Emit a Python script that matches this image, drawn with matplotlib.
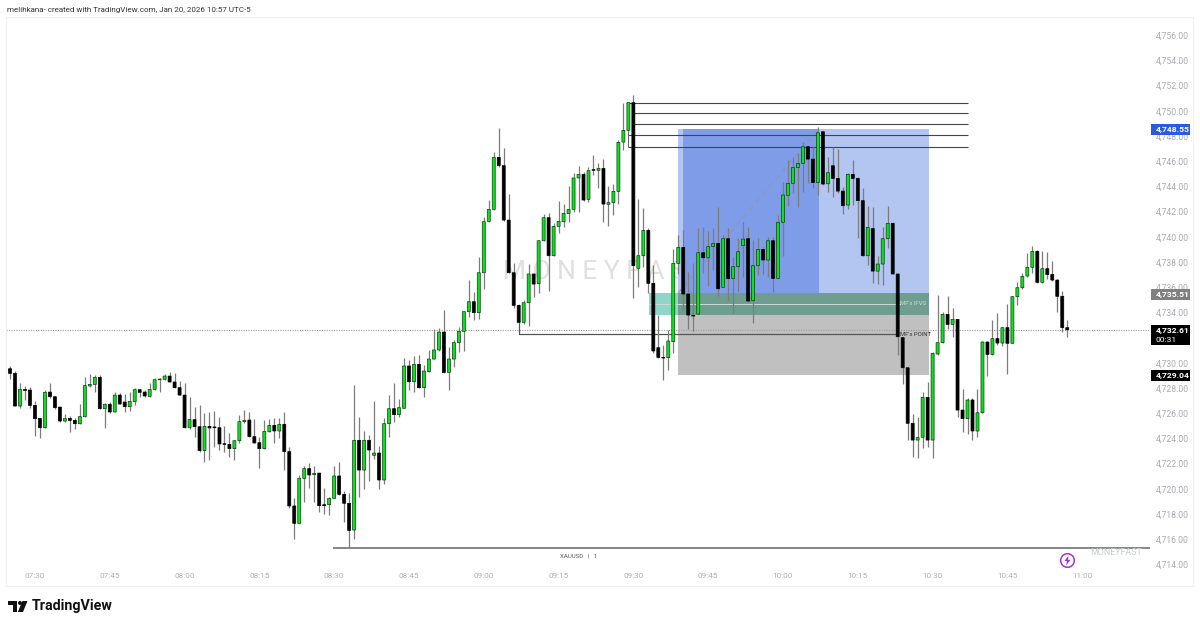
import matplotlib
matplotlib.use("Agg")
import matplotlib.pyplot as plt
from matplotlib.patches import Rectangle, Polygon, Circle
from matplotlib.ticker import FuncFormatter
import numpy as np

plt.rcParams['font.family'] = ['Roboto', 'DejaVu Sans']

# 1 minute bars, XAUUSD, first bar is 07:25
opens = [
    4729.52, 4729.15, 4726.56, 4727.88, 4727.83, 4726.61, 4725.58, 4724.84, 4727.67, 4727.30,
    4726.48, 4725.37, 4725.58, 4725.42, 4725.16, 4725.72, 4728.15, 4728.28, 4728.84, 4726.35,
    4726.70, 4726.09, 4727.43, 4726.88, 4726.51, 4726.91, 4727.86, 4727.67, 4727.33, 4727.88,
    4728.65, 4728.68, 4728.94, 4728.47, 4728.02, 4727.43, 4724.84, 4725.48, 4724.92, 4723.02,
    4724.95, 4724.90, 4724.84, 4723.57, 4723.52, 4723.18, 4723.81, 4725.32, 4725.45, 4724.13,
    4723.65, 4723.18, 4724.52, 4725.03, 4724.58, 4725.11, 4722.94, 4718.63, 4717.25, 4720.82,
    4721.59, 4721.11, 4721.24, 4718.73, 4718.73, 4719.23, 4721.01, 4719.55, 4718.84, 4716.72,
    4723.84, 4721.48, 4723.84, 4722.65, 4722.83, 4720.69, 4725.16, 4726.35, 4725.88, 4726.38,
    4729.74, 4728.49, 4729.87, 4728.02, 4729.29, 4730.29, 4731.01, 4732.43, 4729.23, 4730.29,
    4731.59, 4732.49, 4734.05, 4734.84, 4733.97, 4737.14, 4741.22, 4742.17, 4746.30, 4745.64,
    4741.32, 4737.14, 4734.55, 4733.20, 4734.76, 4737.04, 4736.27, 4739.68, 4741.51, 4738.49,
    4740.82, 4741.19, 4741.83, 4742.17, 4744.66, 4744.95, 4742.96, 4745.32, 4745.27, 4745.42,
    4742.57, 4742.70, 4743.60, 4747.51, 4748.44, 4750.64, 4737.49, 4738.49, 4740.50, 4736.30,
    4731.19, 4730.42, 4730.40, 4731.67, 4737.88, 4739.15, 4735.45, 4733.76, 4733.86, 4738.73,
    4738.33, 4739.21, 4739.47, 4735.98, 4739.84, 4736.67, 4737.62, 4739.29, 4739.84, 4734.92,
    4737.70, 4738.99, 4738.15, 4739.68, 4736.69, 4741.14, 4743.28, 4744.23, 4745.48, 4745.82,
    4747.14, 4746.16, 4744.29, 4748.33, 4744.20, 4745.63, 4744.63, 4743.62, 4742.51, 4744.95,
    4744.63, 4742.86, 4738.49, 4740.64, 4737.27, 4737.83, 4739.84, 4741.06, 4737.04, 4731.99,
    4729.60, 4725.19, 4723.86, 4724.08, 4727.25, 4723.86, 4730.69, 4731.59, 4733.84, 4733.04,
    4733.44, 4726.24, 4725.56, 4727.04, 4724.58, 4726.03, 4731.64, 4730.66, 4731.91, 4731.56,
    4732.78, 4731.54, 4735.24, 4735.95, 4736.88, 4737.57, 4738.84, 4736.38, 4737.46, 4737.01,
    4736.56, 4735.27, 4732.78,
]
highs = [
    4729.74, 4729.37, 4728.36, 4728.15, 4728.04, 4726.96, 4725.58, 4727.83, 4728.36, 4727.30,
    4726.51, 4725.93, 4725.77, 4725.58, 4726.70, 4728.89, 4729.10, 4729.02, 4729.02, 4726.77,
    4726.91, 4727.65, 4727.57, 4727.49, 4727.70, 4727.96, 4727.94, 4727.83, 4728.36, 4728.76,
    4728.76, 4729.08, 4729.29, 4729.21, 4728.57, 4728.36, 4727.30, 4726.51, 4726.64, 4725.98,
    4726.11, 4726.16, 4725.66, 4724.97, 4724.39, 4723.86, 4725.85, 4726.24, 4726.11, 4725.50,
    4724.13, 4725.45, 4725.53, 4725.58, 4725.58, 4726.11, 4723.33, 4719.23, 4721.09, 4721.80,
    4722.01, 4721.80, 4721.27, 4720.03, 4719.37, 4721.83, 4722.14, 4719.82, 4719.63, 4728.23,
    4725.66, 4724.58, 4724.23, 4726.96, 4723.39, 4725.64, 4727.44, 4728.36, 4727.12, 4730.34,
    4730.21, 4730.53, 4730.61, 4729.82, 4731.01, 4732.65, 4732.73, 4734.18, 4731.27, 4731.80,
    4732.86, 4734.13, 4736.56, 4735.64, 4738.36, 4741.59, 4742.91, 4746.75, 4748.60, 4747.06,
    4743.39, 4737.88, 4734.63, 4734.97, 4737.83, 4737.09, 4739.74, 4741.80, 4741.91, 4741.11,
    4742.86, 4742.59, 4744.02, 4745.08, 4745.61, 4745.16, 4745.56, 4746.48, 4745.82, 4746.16,
    4744.00, 4744.15, 4747.67, 4750.63, 4750.64, 4751.24, 4742.96, 4742.25, 4740.66, 4737.75,
    4733.78, 4731.40, 4732.59, 4738.99, 4740.13, 4740.53, 4737.22, 4737.88, 4740.66, 4740.79,
    4740.48, 4740.66, 4742.38, 4740.13, 4740.66, 4738.41, 4739.87, 4741.19, 4740.79, 4739.74,
    4739.87, 4739.15, 4740.00, 4740.00, 4741.72, 4744.36, 4746.08, 4746.35, 4746.61, 4747.49,
    4747.22, 4747.14, 4748.68, 4748.41, 4746.35, 4747.14, 4746.93, 4743.96, 4745.08, 4746.08,
    4744.76, 4743.84, 4742.43, 4742.38, 4738.49, 4740.74, 4742.46, 4741.14, 4737.09, 4732.00,
    4729.60, 4725.90, 4725.66, 4727.70, 4728.49, 4730.87, 4735.37, 4734.05, 4735.32, 4734.31,
    4733.44, 4727.88, 4727.22, 4727.22, 4727.91, 4731.72, 4731.72, 4733.39, 4733.92, 4732.84,
    4734.66, 4735.32, 4736.43, 4737.09, 4738.73, 4739.29, 4738.94, 4738.89, 4738.76, 4738.10,
    4736.61, 4735.69, 4733.39,
]
lows = [
    4728.68, 4726.56, 4726.38, 4727.04, 4726.38, 4724.21, 4724.05, 4724.84, 4727.17, 4726.32,
    4725.32, 4725.32, 4724.50, 4724.74, 4725.13, 4725.72, 4728.10, 4727.70, 4726.35, 4724.84,
    4725.98, 4726.09, 4726.72, 4726.11, 4726.19, 4726.64, 4727.30, 4727.30, 4727.30, 4727.83,
    4727.70, 4728.63, 4728.44, 4727.96, 4727.43, 4724.84, 4724.71, 4724.13, 4722.94, 4722.14,
    4722.28, 4723.33, 4723.07, 4722.94, 4722.49, 4722.28, 4723.60, 4725.19, 4724.13, 4723.60,
    4721.67, 4723.18, 4724.52, 4723.60, 4724.00, 4721.48, 4718.44, 4715.98, 4717.25, 4718.92,
    4720.03, 4718.92, 4718.18, 4717.96, 4717.91, 4719.23, 4719.50, 4717.38, 4715.37, 4715.98,
    4719.37, 4719.98, 4720.61, 4722.33, 4719.95, 4720.35, 4724.13, 4725.32, 4725.72, 4726.38,
    4727.83, 4727.70, 4728.00, 4727.30, 4729.29, 4730.29, 4730.95, 4729.15, 4727.80, 4729.68,
    4730.87, 4730.95, 4733.65, 4733.39, 4733.47, 4735.82, 4741.19, 4742.12, 4745.56, 4741.27,
    4737.09, 4734.31, 4733.12, 4733.07, 4732.91, 4735.24, 4735.50, 4739.68, 4735.72, 4738.47,
    4740.27, 4740.79, 4741.19, 4741.99, 4741.93, 4742.83, 4742.75, 4744.89, 4743.89, 4741.14,
    4740.87, 4741.72, 4742.59, 4746.88, 4748.30, 4735.11, 4735.98, 4737.62, 4735.50, 4730.74,
    4730.34, 4728.62, 4729.42, 4730.79, 4737.01, 4734.18, 4732.65, 4732.54, 4733.86, 4737.09,
    4736.11, 4737.35, 4735.32, 4735.98, 4734.92, 4733.97, 4735.69, 4736.83, 4734.89, 4733.12,
    4736.96, 4737.04, 4736.83, 4735.64, 4736.69, 4738.49, 4742.43, 4743.44, 4742.38, 4743.57,
    4744.23, 4743.89, 4743.31, 4744.10, 4743.57, 4743.12, 4743.49, 4741.80, 4742.20, 4742.50,
    4739.87, 4738.49, 4737.75, 4736.35, 4736.24, 4736.16, 4739.07, 4737.04, 4730.61, 4728.28,
    4723.86, 4722.54, 4722.46, 4723.20, 4723.28, 4722.41, 4730.61, 4731.54, 4732.64, 4732.06,
    4725.72, 4724.47, 4724.34, 4723.86, 4724.13, 4726.03, 4728.97, 4730.61, 4731.40, 4731.35,
    4729.10, 4731.54, 4734.55, 4735.85, 4736.82, 4737.09, 4736.35, 4736.35, 4736.64, 4736.50,
    4734.05, 4732.46, 4732.06,
]
closes = [
    4729.15, 4726.56, 4727.88, 4727.80, 4726.61, 4725.56, 4724.84, 4727.65, 4727.30, 4726.43,
    4725.37, 4725.56, 4725.42, 4725.16, 4725.72, 4728.18, 4728.28, 4728.84, 4726.35, 4726.70,
    4726.09, 4727.43, 4726.72, 4726.51, 4726.93, 4727.86, 4727.65, 4727.36, 4727.88, 4728.65,
    4728.70, 4728.94, 4728.47, 4728.02, 4727.43, 4724.84, 4725.48, 4724.92, 4723.02, 4724.95,
    4724.82, 4724.84, 4723.55, 4723.52, 4723.18, 4723.81, 4725.32, 4725.42, 4724.13, 4723.63,
    4723.18, 4724.55, 4725.03, 4724.58, 4725.11, 4722.94, 4718.63, 4717.25, 4720.82, 4721.59,
    4721.09, 4721.22, 4718.65, 4718.65, 4719.23, 4721.01, 4719.55, 4718.84, 4716.69, 4723.84,
    4721.48, 4723.84, 4723.07, 4722.83, 4720.69, 4725.16, 4726.35, 4725.88, 4726.43, 4729.74,
    4728.49, 4729.87, 4728.02, 4729.34, 4730.29, 4731.01, 4732.43, 4729.23, 4730.29, 4731.59,
    4732.49, 4734.05, 4734.84, 4733.97, 4737.14, 4741.19, 4742.17, 4746.30, 4745.64, 4741.32,
    4737.14, 4734.55, 4733.20, 4734.76, 4737.04, 4736.24, 4739.68, 4741.51, 4738.49, 4740.82,
    4741.22, 4741.85, 4742.17, 4744.66, 4744.95, 4742.91, 4745.24, 4745.27, 4745.42, 4742.59,
    4742.70, 4743.60, 4747.49, 4748.44, 4750.64, 4737.70, 4738.49, 4740.50, 4736.30, 4730.93,
    4730.42, 4730.37, 4731.72, 4737.88, 4739.15, 4735.45, 4733.78, 4733.70, 4738.73, 4738.33,
    4739.21, 4739.47, 4735.87, 4739.84, 4736.67, 4737.62, 4738.81, 4739.81, 4734.89, 4737.70,
    4738.99, 4738.15, 4739.68, 4736.69, 4741.14, 4743.31, 4744.23, 4745.48, 4745.82, 4747.14,
    4746.16, 4744.29, 4748.25, 4744.18, 4745.08, 4744.63, 4743.62, 4742.46, 4744.95, 4744.63,
    4742.86, 4738.49, 4740.74, 4737.27, 4737.83, 4739.84, 4741.06, 4737.04, 4732.06, 4729.60,
    4725.19, 4723.86, 4724.05, 4727.25, 4723.86, 4730.74, 4731.59, 4733.84, 4733.04, 4733.44,
    4726.24, 4725.56, 4727.04, 4724.58, 4726.03, 4731.64, 4730.66, 4731.91, 4731.56, 4732.78,
    4731.54, 4735.24, 4735.95, 4736.85, 4737.57, 4738.84, 4736.38, 4737.46, 4736.99, 4736.56,
    4735.27, 4732.78, 4732.61,
]

# 4,732 sits behind the last price tag in the original, so it is left out
price_ticks = [p for p in range(4714, 4757, 2) if p != 4732]
time_ticks = ["07:30", "07:45", "08:00", "08:15", "08:30", "08:45", "09:00", "09:15",
              "09:30", "09:45", "10:00", "10:15", "10:30", "10:45", "11:00"]

# drawings on the chart, in price
sweep_levels = [4750.63, 4749.79, 4748.92, 4748.05, 4747.14]
target, entry, stop = 4748.55, 4735.51, 4729.04
last_price = 4732.61
fvg_top, fvg_mid, fvg_bottom = 4735.51, 4734.66, 4733.79
point_level = 4732.25
bottom_level = 4715.33

# chart pane placement in the 1200x626 picture
PX_W, PX_H = 1200, 626
LEFT, RIGHT, TOP, BOTTOM = 6, 1193, 17, 586
X0, DX = 10.0, 4.987      # pixel of bar 0, pixels per bar
Y_REF, Y_SCALE = 236.7, 12.6


def idx(px):
    return (px - X0) / DX


def price(py):
    return 4740 - (py - Y_REF) / Y_SCALE


fig = plt.figure(figsize=(PX_W / 100, PX_H / 100), dpi=100, facecolor='white')
ax = fig.add_axes([LEFT / PX_W, 1 - BOTTOM / PX_H, (RIGHT - LEFT) / PX_W, (BOTTOM - TOP) / PX_H])
ax.set_xlim(idx(LEFT), idx(RIGHT))
ax.set_ylim(price(BOTTOM), price(TOP))
for s in ax.spines.values():
    s.set_color('#f0f0f0')
    s.set_linewidth(0.8)

ax.yaxis.tick_right()
ax.set_yticks(price_ticks)
ax.yaxis.set_major_formatter(FuncFormatter(lambda v, _: f"{v:,.2f}"))
ax.tick_params(axis='y', direction='in', length=0, pad=-26.6, labelsize=6.2, labelcolor='#a8abb0')
ax.set_xticks([5 + 15 * k for k in range(len(time_ticks))])
ax.set_xticklabels(time_ticks)
ax.tick_params(axis='x', direction='in', length=0, pad=-9.2, labelsize=5.9, labelcolor='#adb0b5')

# watermark stays under the shapes
ax.text(idx(503), price(272), "M O N E Y F A S T", fontsize=19, color='#e0e0e0',
        ha='left', va='center', zorder=0.5)

# long position box
ax.add_patch(Rectangle((idx(678), entry), idx(929) - idx(678), target - entry,
                       fc='#b3c5f1', ec='none', zorder=1))
ax.add_patch(Rectangle((idx(683), entry), idx(819) - idx(683), target - entry,
                       fc='#7f9ce8', ec='none', zorder=1.1))
ax.add_patch(Rectangle((idx(678), stop), idx(929) - idx(678), entry - stop,
                       fc='#c0c0c0', ec='none', zorder=1))
ax.plot([idx(678), idx(819)], [entry, target], color='#8f97ad', lw=0.9, ls=(0, (4, 4)), zorder=1.2)

# FVG band, plain where it is on white and darker over the grey box
ax.add_patch(Rectangle((idx(649), fvg_bottom), idx(678) - idx(649), fvg_top - fvg_bottom,
                       fc='#8fd5c8', ec='none', zorder=1.3))
ax.add_patch(Rectangle((idx(678), fvg_bottom), idx(929) - idx(678), fvg_top - fvg_bottom,
                       fc='#6f9d90', ec='none', zorder=1.3))
ax.plot([idx(649), idx(900)], [fvg_mid, fvg_mid], color='#c8ded8', lw=0.7, zorder=1.4)
ax.text(idx(900), fvg_mid, "MF's IFVG", fontsize=4.2, color='#c9dfd9', va='center', zorder=4)

# last price line
ax.plot([idx(LEFT), idx(1150)], [last_price, last_price], color='#999999', lw=0.8,
        ls=(0, (1, 1.2)), zorder=1.5)

# swept highs
ends = [idx(968)] * 5
starts = [idx(627), idx(634), idx(634), idx(628.5), idx(628.5)]
ax.hlines(sweep_levels, starts, ends, color='#444444', lw=0.8, zorder=1.6)
ax.vlines(idx(628.5), sweep_levels[-1], 4748.44, color='#666666', lw=0.8, zorder=1.6)

# MF's point
ax.plot([idx(518.7), idx(518.7), idx(898)], [lows[102], point_level, point_level],
        color='#555555', lw=0.9, zorder=1.6)
ax.text(idx(900), point_level, "MF's POINT", fontsize=4.2, color='#333333', va='center', zorder=4)

# bottom line and symbol label
ax.hlines(bottom_level, idx(333), idx(1150), color='#666666', lw=1.1, zorder=1.6)
ax.text(idx(579), price(556), "XAUUSD   |   1", fontsize=4.4, color='#555555',
        ha='center', va='center', zorder=4)
ax.text(idx(1116), price(553), "MONEYFAST", fontsize=6.4, color='#c6cad3',
        ha='center', va='center', zorder=4)

# candles, snapping off so all bodies come out the same width
x = np.arange(len(opens))
o, h, l, c = map(np.array, (opens, highs, lows, closes))
up = c >= o
ax.vlines(x, l, h, color='#7c7c7c', lw=0.9, zorder=2)
up_bars = ax.bar(x[up], (c - o)[up], bottom=o[up], width=0.6, color='#08e41a', edgecolor='#143a18',
                 linewidth=0.5, zorder=3)
down_bars = ax.bar(x[~up], (o - c)[~up], bottom=c[~up], width=0.6, color='black', edgecolor='black',
                   linewidth=0.5, zorder=3)
for rect in list(up_bars) + list(down_bars):
    rect.set_snap(False)


def tag(py_top, py_bottom, fc, labels):
    ax.add_patch(Rectangle((idx(1151), price(py_bottom)), idx(1190) - idx(1151),
                           price(py_top) - price(py_bottom), fc=fc, ec='none', zorder=5))
    step = (py_bottom - py_top) / len(labels)
    for n, (txt, weight) in enumerate(labels):
        ax.text(idx(1156), price(py_top + step * (n + 0.5)), txt, color='white', fontsize=6.1,
                fontweight=weight, ha='left', va='center', zorder=6)


tag(124, 135.5, '#2a5bdc', [(f"{target:,.2f}", 'bold')])
tag(289, 299.5, '#808080', [(f"{entry:,.2f}", 'bold')])
tag(325.5, 345.5, '#000000', [(f"{last_price:,.2f}", 'bold'), ("00:31", 'normal')])
tag(370.5, 381.5, '#000000', [(f"{stop:,.2f}", 'bold')])

# page furniture in pixel coordinates
over = fig.add_axes([0, 0, 1, 1])
over.set_xlim(0, PX_W)
over.set_ylim(PX_H, 0)
over.axis('off')
over.patch.set_alpha(0)

over.text(7, 10, "melihkana- created with TradingView.com, Jan 20, 2026 10:57 UTC-5",
          fontsize=5.8, color='#333333', va='center', ha='left')

over.add_patch(Polygon([(8, 601), (17, 601), (17, 612), (12.5, 612), (12.5, 605), (8, 605)], fc='#111111'))
over.add_patch(Circle((20, 603), 2, fc='#111111'))
over.add_patch(Polygon([(22.5, 601), (27.5, 601), (23, 612), (17.8, 612)], fc='#111111'))
over.text(32, 606, "TradingView", fontsize=10.3, fontweight='bold', color='#111111',
          va='center', ha='left')

over.add_patch(Circle((1067.5, 560.5), 6.8, fc='white', ec='#a635c4', lw=1.1))
over.add_patch(Polygon([(1068.5, 555.5), (1064.5, 561), (1067, 561), (1066, 565.5), (1070.5, 559.8), (1068, 559.8)],
                       fc='#a635c4'))

fig.savefig('out.png', dpi=100, facecolor='white')
